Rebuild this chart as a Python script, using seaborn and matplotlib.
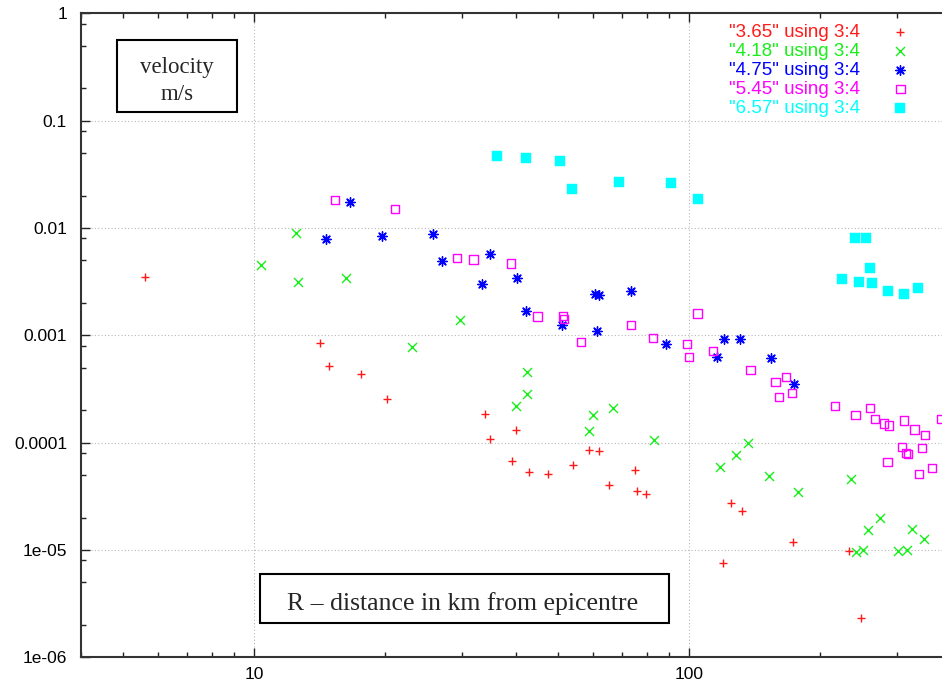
import numpy as np
import matplotlib
matplotlib.use("Agg")
import matplotlib.pyplot as plt
from matplotlib.patches import Rectangle
from matplotlib.ticker import LogLocator, NullFormatter, FuncFormatter
import seaborn as sns

# distance R (km) / velocity (m/s), one set per magnitude
r_365 = [5.62, 14.18, 14.85, 17.58, 20.18, 33.97, 34.77, 39.96, 39.17, 42.96, 47.32, 54.04,
         59.02, 62.23, 65.5, 75.15, 76.0, 79.4, 125.1, 132.6, 172.9, 119.7, 233.6, 248.2]
v_365 = [3.52e-3, 8.42e-4, 5.21e-4, 4.36e-4, 2.53e-4, 1.86e-4, 1.08e-4, 1.32e-4, 6.79e-5, 5.36e-5,
         5.1e-5, 6.22e-5, 8.48e-5, 8.3e-5, 4.0e-5, 5.6e-5, 3.56e-5, 3.32e-5, 2.74e-5, 2.32e-5,
         1.19e-5, 7.51e-6, 9.78e-6, 2.34e-6]

r_418 = [10.39, 12.49, 12.60, 16.24, 23.08, 29.72, 42.43, 42.36, 40.09, 60.26, 59.02, 66.77,
         83.1, 117.7, 128.4, 136.7, 152.5, 178.1, 235.8, 274.8, 257.9, 241.3, 251.6, 302.7,
         316.5, 325.5, 346.3]
v_418 = [4.55e-3, 9.03e-3, 3.16e-3, 3.42e-3, 7.73e-4, 1.38e-3, 4.55e-4, 2.86e-4, 2.18e-4, 1.81e-4,
         1.29e-4, 2.1e-4, 1.06e-4, 5.89e-5, 7.72e-5, 9.92e-5, 4.85e-5, 3.47e-5, 4.55e-5, 1.99e-5,
         1.535e-5, 9.57e-6, 1.01e-5, 9.84e-6, 9.98e-6, 1.56e-5, 1.27e-5]

r_475 = [16.62, 14.64, 19.72, 25.75, 27.05, 34.83, 33.42, 40.30, 42.27, 51.16, 60.9, 62.2,
         61.44, 73.7, 88.4, 116.0, 120.4, 131.0, 154.1, 174.4]
v_475 = [1.734e-2, 7.84e-3, 8.36e-3, 8.79e-3, 4.95e-3, 5.72e-3, 3.03e-3, 3.42e-3, 1.69e-3, 1.255e-3,
         2.44e-3, 2.39e-3, 1.09e-3, 2.57e-3, 8.29e-4, 6.24e-4, 9.23e-4, 9.3e-4, 6.14e-4, 3.52e-4]

r_545 = [15.33, 21.05, 29.24, 31.92, 38.9, 44.8, 51.3, 51.5, 56.47, 73.63, 82.64, 98.8, 99.8,
         104.5, 113.4, 138.3, 157.9, 166.9, 161.0, 172.2, 216.8, 241.3, 260.6, 267.7, 280.6,
         287.6, 312.1, 329.6, 348.7, 380.0, 308.3, 314.8, 319.0, 342.6, 285.7, 337.2, 362.0]
v_545 = [1.834e-2, 1.502e-2, 5.25e-3, 5.1e-3, 4.65e-3, 1.5e-3, 1.51e-3, 1.41e-3, 8.66e-4, 1.25e-3,
         9.5e-4, 8.24e-4, 6.24e-4, 1.6e-3, 7.19e-4, 4.72e-4, 3.67e-4, 4.06e-4, 2.68e-4, 2.88e-4,
         2.21e-4, 1.8e-4, 2.09e-4, 1.66e-4, 1.51e-4, 1.44e-4, 1.61e-4, 1.33e-4, 1.17e-4, 1.65e-4,
         9.16e-5, 8.05e-5, 7.83e-5, 8.97e-5, 6.64e-5, 5.13e-5, 5.8e-5]

r_657 = [36.14, 42.13, 50.6, 53.8, 68.87, 90.8, 104.7, 240.9, 255.6, 260.6, 225.1, 246.3,
         263.4, 287.1, 312.6, 336.5]
v_657 = [4.68e-2, 4.51e-2, 4.2e-2, 2.307e-2, 2.698e-2, 2.606e-2, 1.85e-2, 8.11e-3, 8.11e-3,
         4.24e-3, 3.345e-3, 3.12e-3, 3.07e-3, 2.59e-3, 2.44e-3, 2.76e-3]

labels = ['"3.65" using 3:4', '"4.18" using 3:4', '"4.75" using 3:4',
          '"5.45" using 3:4', '"6.57" using 3:4']
colors = ['#ff1a1a', '#1aee1a', '#0000ff', '#ff00ff', '#00ffff']

sns.set_style("ticks")
plt.rcParams['font.family'] = ['Liberation Sans', 'DejaVu Sans']

W, H = 942, 687
fig = plt.figure(figsize=(W / 100, H / 100), dpi=100)
ax = fig.add_axes([81 / W, 29.7 / H, 870 / W, 644 / H])

sets = [(r_365, v_365, '+', 38), (r_418, v_418, 'x', 42), (r_475, v_475, (8, 2, 0), 46),
        (r_545, v_545, 's', 36), (r_657, v_657, 's', 44)]

for i, (r, v, m, s) in enumerate(sets):
    kw = dict(x=r, y=v, ax=ax, marker=m, s=s, color=colors[i], label=labels[i],
              legend=False, zorder=3)
    if i == 3:
        sns.scatterplot(facecolor='none', edgecolor=colors[i], linewidth=1.0, **kw)
    elif i == 4:
        sns.scatterplot(edgecolor=colors[i], linewidth=0.3, **kw)
    else:
        sns.scatterplot(linewidth=1.0, **kw)

ax.set_xscale('log')
ax.set_yscale('log')
ax.set_xlim(4, 400)
ax.set_ylim(1e-6, 1)

fmt = FuncFormatter(lambda v, p: '%g' % v)
ax.xaxis.set_major_locator(LogLocator(base=10))
ax.xaxis.set_major_formatter(fmt)
ax.xaxis.set_minor_locator(LogLocator(base=10, subs=np.arange(2, 10)))
ax.xaxis.set_minor_formatter(NullFormatter())
ax.yaxis.set_major_locator(LogLocator(base=10, numticks=10))
ax.yaxis.set_major_formatter(fmt)
ax.yaxis.set_minor_locator(LogLocator(base=10, subs=(2, 5, 8), numticks=10))
ax.yaxis.set_minor_formatter(NullFormatter())

ax.tick_params(which='both', direction='in', top=True, right=True, width=1.0,
               color='#222222', labelsize=12.5, labelcolor='black')
ax.tick_params(which='major', length=6.5)
ax.tick_params(which='minor', length=3.5)
ax.tick_params(axis='x', pad=7)
ax.tick_params(axis='y', pad=10)
ax.set_xlabel('')
ax.set_ylabel('')

ax.grid(True, which='major', color='#b8b8b8', linestyle=(0, (1, 2)), linewidth=0.8)
for sp in ax.spines.values():
    sp.set_linewidth(1.5)
    sp.set_color('#333333')

leg = ax.legend(loc='upper right', bbox_to_anchor=(922 / W, 1 - 24 / H),
                bbox_transform=fig.transFigure, markerfirst=False, frameon=False,
                fontsize=13.5, handletextpad=1.0, handlelength=2.3, labelspacing=0.1,
                borderpad=0, borderaxespad=0, scatterpoints=1)
for t, c in zip(leg.get_texts(), colors):
    t.set_color(c)

# text boxes
fig.add_artist(Rectangle((117 / W, 1 - 112 / H), 120 / W, 72 / H, transform=fig.transFigure,
                         fc='white', ec='black', lw=1.5, zorder=5))
fig.text(177 / W, 1 - 73 / H, 'velocity', ha='center', va='baseline', fontsize=16.5,
         family='Liberation Serif', zorder=6)
fig.text(177 / W, 1 - 100 / H, 'm/s', ha='center', va='baseline', fontsize=16.5,
         family='Liberation Serif', zorder=6)

fig.add_artist(Rectangle((260 / W, 1 - 623 / H), 409 / W, 49 / H, transform=fig.transFigure,
                         fc='white', ec='black', lw=1.5, zorder=5))
fig.text(463 / W, 1 - 610 / H, 'R \u2013 distance in km from epicentre', ha='center',
         va='baseline', fontsize=18.5, family='Liberation Serif', zorder=6)

fig.savefig('out.png', dpi=100)
